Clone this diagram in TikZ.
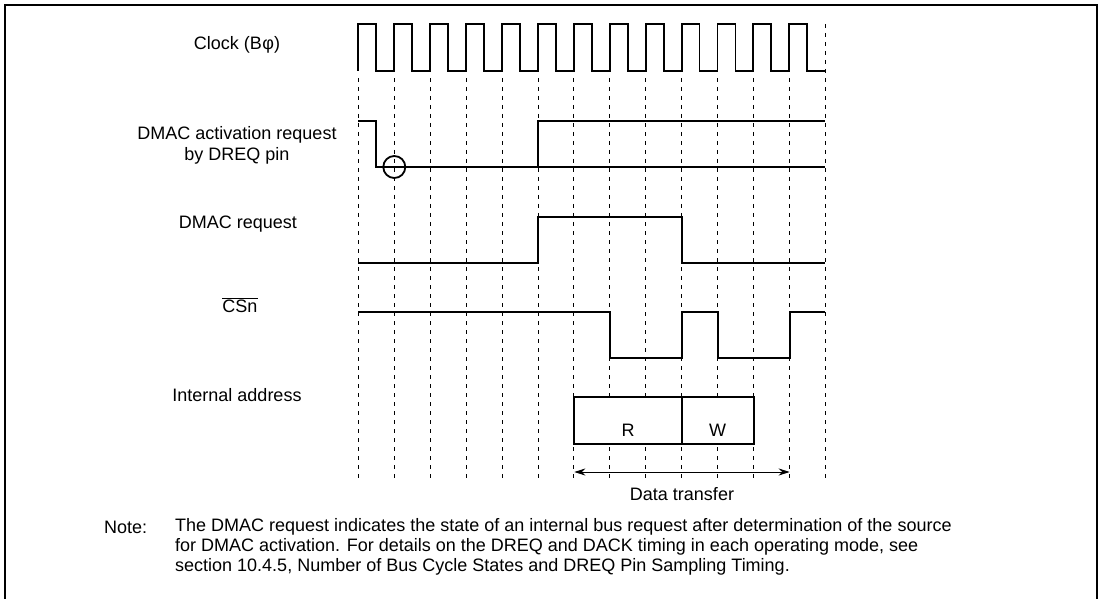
\documentclass[tikz,border=0pt]{standalone}
\usepackage{fontspec}
\setmainfont{Liberation Sans}
\usetikzlibrary{arrows.meta}
\begin{document}
\begin{tikzpicture}[x=1pt,y=-1pt,
  wave/.style={line width=1.9pt,line join=miter},
  gridline/.style={line width=0.8pt,dash pattern=on 4pt off 5pt},
  lbl/.style={font=\fontsize{18}{21}\selectfont,inner sep=0pt,align=center},
  notetxt/.style={font=\fontsize{18}{21}\selectfont,inner sep=0pt,anchor=west}]
\useasboundingbox (0,0) rectangle (1101,599);
% frame
\draw[line width=2pt] (5,599) -- (5,5) -- (1097,5) -- (1097,599);
% grid
\foreach \i in {0,...,12}{
  \draw[gridline] ({358.3+35.92*\i},78) -- ({358.3+35.92*\i},478);
}
\draw[gridline] (825.3,24) -- (825.3,478);
% clock
\draw[wave] (358.3,71) foreach \i in {0,...,12}{ -- ++(0,-47) -- ++(17.96,0) -- ++(0,47) -- ++(17.96,0)};
% DREQ
\draw[wave] (358.3,121) -- (376.3,121) -- (376.3,167) -- (825.3,167);
\draw[wave] (538.3,167) -- (538.3,121) -- (825.3,121);
\draw[line width=1.8pt] (394.3,167) circle[radius=11];
% DMAC request
\draw[wave] (358.3,263) -- (538.3,263) -- (538.3,217) -- (681.8,217) -- (681.8,263) -- (825.3,263);
% CSn
\draw[wave] (358.3,312) -- (610,312) -- (610,358) -- (681.8,358) -- (681.8,312) -- (717.7,312) -- (717.7,358) -- (789.7,358) -- (789.7,312) -- (825.3,312);
% internal address
\draw[wave,fill=white] (574.3,397) rectangle (753.7,444);
\draw[wave] (681.8,397) -- (681.8,444);
\node[lbl] (rlab) at (628,430) {R};
\node[lbl] (wlab) at (717.7,430) {W};
% data transfer arrow
\coordinate (dtl) at (574.3,472);
\coordinate (dtr) at (789.7,472);
\draw[line width=1pt,{Stealth[length=11pt,width=7pt]}-{Stealth[length=11pt,width=7pt]}] (dtl) -- (dtr);
\node[lbl] (dt) at (682,494) {Data transfer};
% labels
\node[lbl] (clk) at (237,45) {Clock (B\kern0.5pt φ)};
\node[lbl] (dreq) at (237,145) {DMAC activation request\\by DREQ pin};
\node[lbl] (dmac) at (238,224) {DMAC request};
\node[lbl] (cs) at (240,305) {$\overline{\mbox{CSn}}$};
\node[lbl] (ia) at (237,395) {Internal address};
% note
\node[notetxt] (notehd) at (104,527) {Note:};
\node[notetxt] (note1) at (175,527) {The DMAC request indicates the state of an internal bus request after determination of the source};
\node[notetxt] (note2) at (175,547) {for DMAC activation. For details on the DREQ and DACK timing in each operating mode, see};
\node[notetxt] (note3) at (175,567) {section 10.4.5, Number of Bus Cycle States and DREQ Pin Sampling Timing.};
\end{tikzpicture}
\end{document}
